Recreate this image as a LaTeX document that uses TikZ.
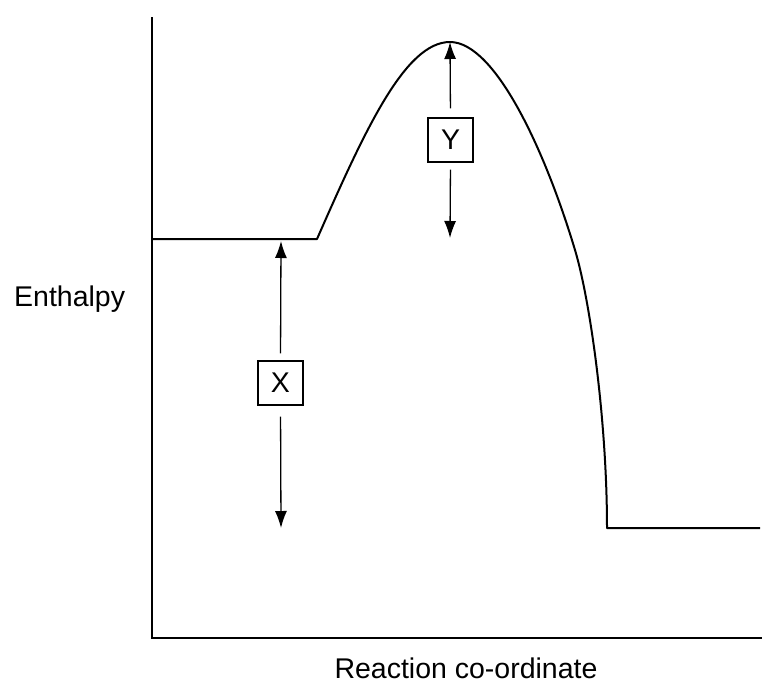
\documentclass[tikz,border=0pt]{standalone}
\usepackage{fontspec}
\setmainfont{Liberation Sans}
\usetikzlibrary{arrows.meta}
\begin{document}
\begin{tikzpicture}[x=1pt,y=-1pt,
  axis/.style={line width=2pt,line join=miter},
  curve/.style={line width=2pt,line join=round},
  lbl/.style={font=\fontsize{28.5}{34}\selectfont,inner sep=0pt},
  boxlbl/.style={draw,line width=1.2pt,minimum width=45pt,minimum height=44pt,inner sep=0pt,font=\fontsize{28.5}{34}\selectfont},
  dim/.style={line width=1.3pt,-{Latex[length=17pt,width=12pt]}}]
\useasboundingbox (0,0) rectangle (763,686);
% axes
\draw[axis] (152,17) -- (152,638) -- (762,638);
% enthalpy profile
\draw[curve] (152,239) -- (317,239)
  .. controls (365,130) and (405,42) .. (450,42)
  .. controls (495,42) and (545,150) .. (575,250)
  .. controls (590,300) and (607,420) .. (607,528)
  -- (760,528);
% labels
\node[lbl,anchor=base west] (enth) at (14,306) {Enthalpy};
\node[lbl,anchor=base] (rc) at (466,678) {Reaction co-ordinate};
% coordinates of arrow tips
\coordinate (peak) at (450,42);
\coordinate (ylow) at (450,238);
\coordinate (xtop) at (281,241);
\coordinate (xbot) at (281,528);
% boxes
\node[boxlbl] (Y) at (450.5,140) {Y};
\node[boxlbl] (X) at (280.5,383) {X};
% arrows
\draw[dim,shorten <=9pt] (Y.north) -- (peak);
\draw[dim,shorten <=7pt] (Y.south) -- (ylow);
\draw[dim,shorten <=7pt] (X.north) -- (xtop);
\draw[dim,shorten <=11pt] (X.south) -- (xbot);
\end{tikzpicture}
\end{document}
